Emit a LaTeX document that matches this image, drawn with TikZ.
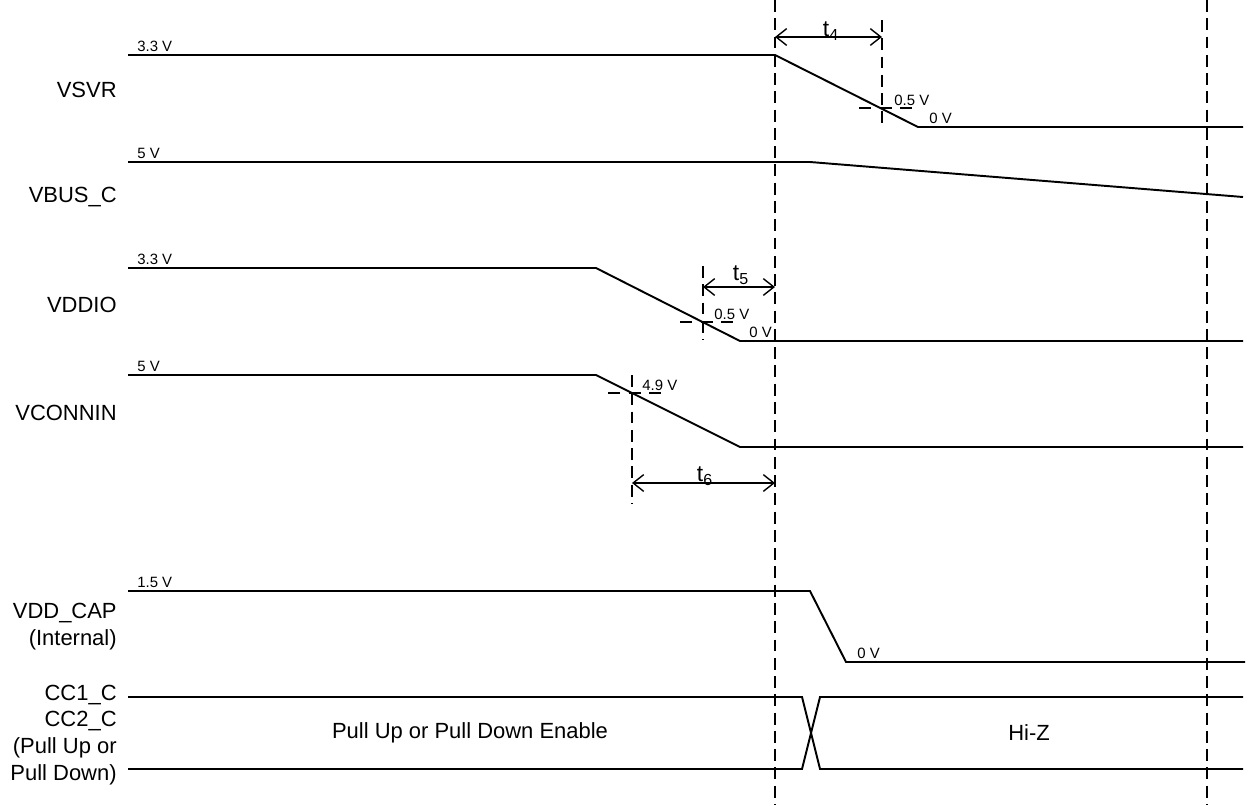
\documentclass[tikz,border=0pt]{standalone}
\usepackage{fontspec}
\setmainfont{Liberation Sans}
\usetikzlibrary{arrows.meta}

\begin{document}
\begin{tikzpicture}[x=0.02cm, y=-0.02cm,
        wave/.style={line width=1.1pt, line join=miter},
        marker/.style={line width=1.1pt, dash pattern=on 6.8pt off 3.6pt},
        cross/.style={line width=1pt, dash pattern=on 6.8pt off 5pt},
        arr/.style={{Straight Barb[length=6pt,width=9.5pt]}-{Straight Barb[length=6pt,width=9.5pt]}, line width=0.8pt},
        sig/.style={anchor=east, align=right, inner sep=0pt, font=\fontsize{12.5}{15.3}\selectfont},
        lvl/.style={anchor=south west, inner sep=0pt, font=\fontsize{8.5}{10}\selectfont},
        tim/.style={inner sep=0pt, font=\fontsize{13}{14}\selectfont},
        bus/.style={inner sep=0pt, font=\fontsize{12.5}{14}\selectfont}
]
    \useasboundingbox (0,0) rectangle (1251,805);

    % signal names
    \node[sig] (nVSVR) at (117,90) {VSVR};
    \node[sig] (nVBUS) at (117,197) {VBUS\_C};
    \node[sig] (nVDDIO) at (117,305) {VDDIO};
    \node[sig] (nVCONN) at (117,413) {VCONNIN};
    \node[sig] (nVCAP) at (117,627) {VDD\_CAP\\(Internal)};
    \node[sig] (nCC) at (117,735) {CC1\_C\\CC2\_C\\(Pull Up or\\Pull Down)};

    % reference lines
    \coordinate (refTop) at (775,0);
    \coordinate (refBot) at (775,805);
    \coordinate (endTop) at (1207,0);
    \coordinate (endBot) at (1207,805);
    \draw[marker] (refTop) -- (refBot);
    \draw[marker] (endTop) -- (endBot);

    % VSVR
    \coordinate (vsvrA) at (128,55);
    \coordinate (vsvrB) at (775,55);
    \coordinate (vsvrC) at (918,127);
    \coordinate (vsvrD) at (1243,127);
    \draw[wave] (vsvrA) -- (vsvrB) -- (vsvrC) -- (vsvrD);
    \node[lvl] (lVSVRhi) at (137,52) {3.3 V};
    \node[lvl] (lVSVRmid) at (894,106) {0.5 V};
    \node[lvl] (lVSVRlo) at (929,124) {0 V};

    % VBUS_C
    \coordinate (vbusA) at (128,162);
    \coordinate (vbusB) at (810,162);
    \coordinate (vbusC) at (1243,197);
    \draw[wave] (vbusA) -- (vbusB) -- (vbusC);
    \node[lvl] (lVBUShi) at (137,159) {5 V};

    % VDDIO
    \coordinate (vddA) at (128,268);
    \coordinate (vddB) at (596,268);
    \coordinate (vddC) at (740,341);
    \coordinate (vddD) at (1243,341);
    \draw[wave] (vddA) -- (vddB) -- (vddC) -- (vddD);
    \node[lvl] (lVDDhi) at (137,265) {3.3 V};
    \node[lvl] (lVDDmid) at (714,320) {0.5 V};
    \node[lvl] (lVDDlo) at (749,338) {0 V};

    % VCONNIN
    \coordinate (vconA) at (128,375);
    \coordinate (vconB) at (596,375);
    \coordinate (vconC) at (740,447);
    \coordinate (vconD) at (1243,447);
    \draw[wave] (vconA) -- (vconB) -- (vconC) -- (vconD);
    \node[lvl] (lVCONhi) at (137,372) {5 V};
    \node[lvl] (lVCONmid) at (642,391) {4.9 V};

    % VDD_CAP
    \coordinate (capA) at (128,591);
    \coordinate (capB) at (810,591);
    \coordinate (capC) at (846,662);
    \coordinate (capD) at (1245,662);
    \draw[wave] (capA) -- (capB) -- (capC) -- (capD);
    \node[lvl] (lCAPhi) at (137,588) {1.5 V};
    \node[lvl] (lCAPlo) at (857,659) {0 V};

    % CC1_C / CC2_C bus
    \coordinate (ccTA) at (128,697);
    \coordinate (ccTB) at (802,697);
    \coordinate (ccTC) at (820,697);
    \coordinate (ccTD) at (1243,697);
    \coordinate (ccBA) at (128,769);
    \coordinate (ccBB) at (802,769);
    \coordinate (ccBC) at (820,769);
    \coordinate (ccBD) at (1243,769);
    \draw[wave] (ccTA) -- (ccTB) -- (ccBC) -- (ccBD);
    \draw[wave] (ccBA) -- (ccBB) -- (ccTC) -- (ccTD);
    \node[bus] (busOn) at (470,733) {Pull Up or Pull Down Enable};
    \node[bus] (busOff) at (1029,733) {Hi-Z};

    % t4
    \coordinate (t4Top) at (882,20);
    \coordinate (t4Bot) at (882,125);
    \draw[marker] (t4Top) -- (t4Bot);
    \draw[cross] (859,108) -- (918,108);
    \coordinate (t4L) at (775,37);
    \coordinate (t4R) at (882,37);
    \draw[arr] (t4L) -- (t4R);
    \node[tim] (lt4) at (831,31) {t\textsubscript{4}};

    % t5
    \coordinate (t5Top) at (703,266);
    \coordinate (t5Bot) at (703,340);
    \draw[marker] (t5Top) -- (t5Bot);
    \draw[cross] (680,322) -- (739,322);
    \coordinate (t5L) at (703,287);
    \coordinate (t5R) at (775,287);
    \draw[arr] (t5L) -- (t5R);
    \node[tim] (lt5) at (741,275) {t\textsubscript{5}};

    % t6
    \coordinate (t6Top) at (632,375);
    \coordinate (t6Bot) at (632,503);
    \draw[marker] (t6Top) -- (t6Bot);
    \draw[cross] (608,393) -- (667,393);
    \coordinate (t6L) at (632,483);
    \coordinate (t6R) at (775,483);
    \draw[arr] (t6L) -- (t6R);
    \node[tim] (lt6) at (705,476) {t\textsubscript{6}};
\end{tikzpicture}
\end{document}
